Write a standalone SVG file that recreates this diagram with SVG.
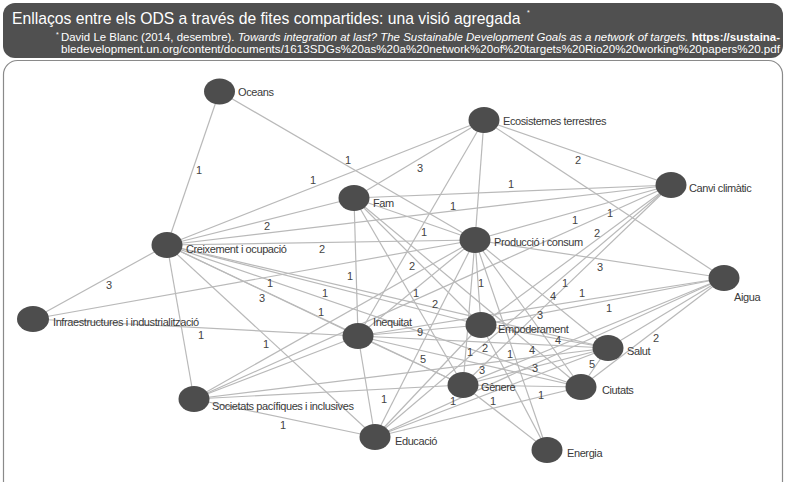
<svg xmlns="http://www.w3.org/2000/svg" width="786" height="482" viewBox="0 0 786 482">
<style>
.hdr{fill:#505050}
.frame{fill:#fff;stroke:#8a8a8a;stroke-width:1.2}
.t{font-family:"Liberation Sans",Arial,sans-serif;fill:#fff}
.e line{stroke:#b9b9b9;stroke-width:1.2}
.el{font-family:"Liberation Sans",Arial,sans-serif;font-size:11px;fill:#444;text-anchor:middle}
.n ellipse{fill:#4d4d4d}
.n text{font-family:"Liberation Sans",Arial,sans-serif;font-size:11px;fill:#3a3a3a;letter-spacing:-0.4px}
</style>
<rect class="frame" x="3.5" y="60.5" width="779" height="440" rx="14"/>
<rect class="hdr" x="3" y="3" width="780" height="55" rx="12"/>
<text class="t" x="12" y="24" font-size="15.7">Enllaços entre els ODS a través de fites compartides: una visió agregada</text>
<text class="t" x="527" y="15" font-size="7">*</text>
<text class="t" x="56" y="37" font-size="7">*</text>
<text class="t" x="61" y="41" font-size="10.5" textLength="719" lengthAdjust="spacingAndGlyphs">David Le Blanc (2014, desembre). <tspan font-style="italic">Towards integration at last? The Sustainable Development Goals as a network of targets.</tspan> <tspan font-weight="bold">https://sustaina-</tspan></text>
<text class="t" x="61" y="53" font-size="10.5" textLength="719" lengthAdjust="spacingAndGlyphs">bledevelopment.un.org/content/documents/1613SDGs%20as%20a%20network%20of%20targets%20Rio20%20working%20papers%20.pdf</text>
<g id="connectors" class="e">
<line x1="219.5" y1="91.5" x2="167" y2="245"/>
<line x1="219.5" y1="91.5" x2="475" y2="240"/>
<line x1="167" y1="245" x2="484" y2="120"/>
<line x1="354" y1="198" x2="484" y2="120"/>
<line x1="484" y1="120" x2="671" y2="185"/>
<line x1="484" y1="120" x2="475" y2="240"/>
<line x1="484" y1="120" x2="358" y2="336"/>
<line x1="484" y1="120" x2="724" y2="278"/>
<line x1="354" y1="198" x2="671" y2="185"/>
<line x1="167" y1="245" x2="671" y2="185"/>
<line x1="167" y1="245" x2="354" y2="198"/>
<line x1="167" y1="245" x2="475" y2="240"/>
<line x1="354" y1="198" x2="475" y2="240"/>
<line x1="671" y1="185" x2="475" y2="240"/>
<line x1="671" y1="185" x2="194" y2="399"/>
<line x1="671" y1="185" x2="481" y2="325"/>
<line x1="671" y1="185" x2="463" y2="385"/>
<line x1="671" y1="185" x2="375" y2="437"/>
<line x1="475" y1="240" x2="724" y2="278"/>
<line x1="167" y1="245" x2="33" y2="319"/>
<line x1="167" y1="245" x2="194" y2="399"/>
<line x1="167" y1="245" x2="358" y2="336"/>
<line x1="167" y1="245" x2="463" y2="385"/>
<line x1="167" y1="245" x2="481" y2="325"/>
<line x1="167" y1="245" x2="581" y2="387"/>
<line x1="167" y1="245" x2="375" y2="437"/>
<line x1="167" y1="245" x2="608" y2="348"/>
<line x1="33" y1="319" x2="475" y2="240"/>
<line x1="33" y1="319" x2="358" y2="336"/>
<line x1="354" y1="198" x2="358" y2="336"/>
<line x1="354" y1="198" x2="481" y2="325"/>
<line x1="354" y1="198" x2="463" y2="385"/>
<line x1="475" y1="240" x2="481" y2="325"/>
<line x1="475" y1="240" x2="608" y2="348"/>
<line x1="724" y1="278" x2="358" y2="336"/>
<line x1="724" y1="278" x2="481" y2="325"/>
<line x1="724" y1="278" x2="581" y2="387"/>
<line x1="724" y1="278" x2="608" y2="348"/>
<line x1="724" y1="278" x2="463" y2="385"/>
<line x1="724" y1="278" x2="375" y2="437"/>
<line x1="475" y1="240" x2="581" y2="387"/>
<line x1="358" y1="336" x2="481" y2="325"/>
<line x1="481" y1="325" x2="608" y2="348"/>
<line x1="358" y1="336" x2="463" y2="385"/>
<line x1="475" y1="240" x2="463" y2="385"/>
<line x1="481" y1="325" x2="547" y2="450"/>
<line x1="475" y1="240" x2="547" y2="450"/>
<line x1="354" y1="198" x2="581" y2="387"/>
<line x1="358" y1="336" x2="581" y2="387"/>
<line x1="463" y1="385" x2="608" y2="348"/>
<line x1="608" y1="348" x2="581" y2="387"/>
<line x1="463" y1="385" x2="547" y2="450"/>
<line x1="463" y1="385" x2="581" y2="387"/>
<line x1="375" y1="437" x2="608" y2="348"/>
<line x1="194" y1="399" x2="463" y2="385"/>
<line x1="194" y1="399" x2="608" y2="348"/>
<line x1="194" y1="399" x2="375" y2="437"/>
<line x1="194" y1="399" x2="475" y2="240"/>
<line x1="194" y1="399" x2="358" y2="336"/>
<line x1="358" y1="336" x2="375" y2="437"/>
<line x1="475" y1="240" x2="375" y2="437"/>
<line x1="481" y1="325" x2="375" y2="437"/>
<line x1="581" y1="387" x2="375" y2="437"/>
<line x1="358" y1="336" x2="608" y2="348"/>
<line x1="475" y1="240" x2="358" y2="336"/>
</g>
<g id="connector-labels" class="el">
<text x="199" y="174">1</text>
<text x="348" y="164">1</text>
<text x="313" y="184">1</text>
<text x="420" y="172">3</text>
<text x="578" y="164">2</text>
<text x="511" y="188">1</text>
<text x="453" y="210">1</text>
<text x="267" y="230">2</text>
<text x="322" y="253">2</text>
<text x="424" y="236">1</text>
<text x="575" y="224">1</text>
<text x="610" y="217">1</text>
<text x="597" y="237">2</text>
<text x="600" y="271">3</text>
<text x="109" y="289">3</text>
<text x="270" y="287">1</text>
<text x="325" y="297">1</text>
<text x="262" y="302">3</text>
<text x="321" y="316">1</text>
<text x="350" y="280">1</text>
<text x="412" y="270">2</text>
<text x="416" y="297">1</text>
<text x="435" y="308">2</text>
<text x="481" y="287">1</text>
<text x="565" y="287">1</text>
<text x="553" y="300">4</text>
<text x="582" y="297">1</text>
<text x="609" y="312">1</text>
<text x="540" y="319">3</text>
<text x="420" y="336">9</text>
<text x="558" y="344">4</text>
<text x="201" y="339">1</text>
<text x="266" y="348">1</text>
<text x="423" y="363">5</text>
<text x="470" y="356">1</text>
<text x="485" y="352">2</text>
<text x="510" y="358">1</text>
<text x="532" y="354">4</text>
<text x="482" y="374">3</text>
<text x="535" y="372">3</text>
<text x="592" y="368">5</text>
<text x="656" y="342">2</text>
<text x="453" y="405">1</text>
<text x="493" y="405">1</text>
<text x="541" y="399">1</text>
<text x="384" y="403">1</text>
<text x="283" y="429">1</text>
</g>
<g id="node-oceans" class="n"><ellipse cx="219.5" cy="91.5" rx="15.5" ry="13"/><text x="238" y="96">Oceans</text></g>
<g id="node-ecosistemes" class="n"><ellipse cx="484" cy="120" rx="15.5" ry="13"/><text x="503" y="125">Ecosistemes terrestres</text></g>
<g id="node-canvi" class="n"><ellipse cx="671" cy="185" rx="15.5" ry="13"/><text x="689" y="192">Canvi climàtic</text></g>
<g id="node-fam" class="n"><ellipse cx="354" cy="198" rx="15.5" ry="13"/><text x="373" y="207">Fam</text></g>
<g id="node-creixement" class="n"><ellipse cx="167" cy="245" rx="15.5" ry="13"/><text x="186" y="253">Creixement i ocupació</text></g>
<g id="node-produccio" class="n"><ellipse cx="475" cy="240" rx="15.5" ry="13"/><text x="494" y="246">Producció i consum</text></g>
<g id="node-aigua" class="n"><ellipse cx="724" cy="278" rx="15.5" ry="13"/><text x="734" y="301">Aigua</text></g>
<g id="node-infraestructures" class="n"><ellipse cx="33" cy="319" rx="16" ry="13"/><text x="53" y="326">Infraestructures i industrialització</text></g>
<g id="node-inequitat" class="n"><ellipse cx="358" cy="336" rx="15.5" ry="13"/><text x="373" y="326">Inequitat</text></g>
<g id="node-empoderament" class="n"><ellipse cx="481" cy="325" rx="15.5" ry="13"/><text x="498" y="333">Empoderament</text></g>
<g id="node-salut" class="n"><ellipse cx="608" cy="348" rx="15.5" ry="13"/><text x="627" y="355">Salut</text></g>
<g id="node-genere" class="n"><ellipse cx="463" cy="385" rx="15.5" ry="13"/><text x="481" y="391">Gènere</text></g>
<g id="node-ciutats" class="n"><ellipse cx="581" cy="387" rx="15.5" ry="13"/><text x="602" y="394">Ciutats</text></g>
<g id="node-societats" class="n"><ellipse cx="194" cy="399" rx="15.5" ry="13"/><text x="212" y="410">Societats pacífiques i inclusives</text></g>
<g id="node-educacio" class="n"><ellipse cx="375" cy="437" rx="15.5" ry="13"/><text x="395" y="445">Educació</text></g>
<g id="node-energia" class="n"><ellipse cx="547" cy="450" rx="15.5" ry="13"/><text x="567" y="457">Energia</text></g>
</svg>
